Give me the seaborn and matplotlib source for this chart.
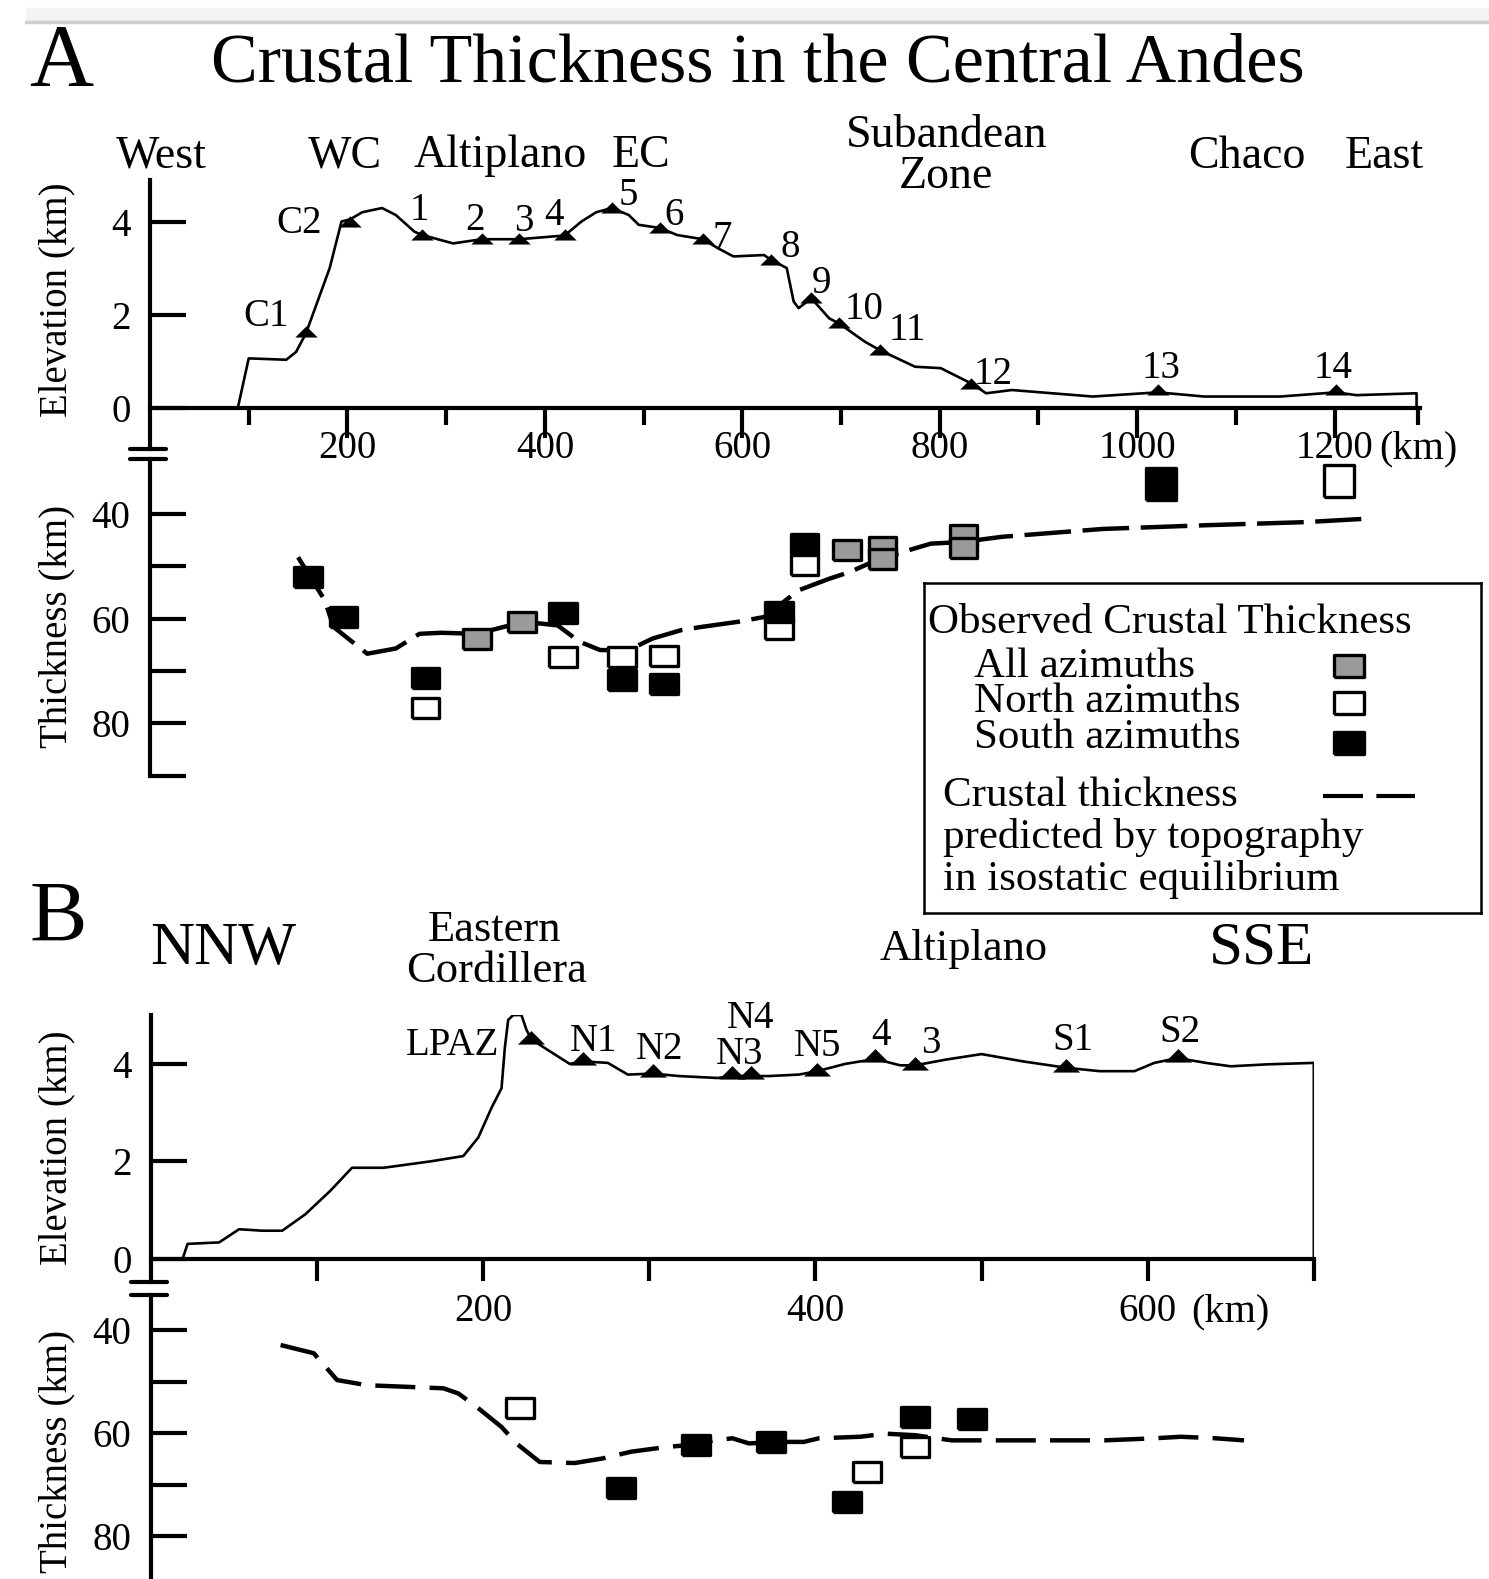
import pandas as pd
import seaborn as sns
import matplotlib.pyplot as plt
from matplotlib.lines import Line2D
from matplotlib.patches import Rectangle

# ---------------- Panel A: West -> East (km along profile) ----------------
a_topo_km = [89, 100, 138, 148, 158, 182, 194, 203, 215, 235,
             249, 268, 276, 307, 336, 374, 420, 437, 452, 468,
             485, 495, 517, 534, 560, 575, 591, 622, 629, 645,
             652, 657, 670, 688, 698, 724, 739, 775, 801, 832,
             847, 873, 914, 955, 1021, 1068, 1145, 1201, 1222, 1283, 1283]
a_topo_elev = [0, 1.06, 1.03, 1.2, 1.6, 3.0, 4.0, 4.05, 4.2, 4.29,
               4.14, 3.78, 3.71, 3.53, 3.62, 3.62, 3.7, 4.0, 4.2, 4.29,
               4.14, 3.93, 3.86, 3.71, 3.62, 3.43, 3.25, 3.28, 3.18, 3.0,
               2.28, 2.14, 2.35, 1.92, 1.81, 1.42, 1.24, 0.88, 0.85, 0.52,
               0.31, 0.38, 0.31, 0.24, 0.33, 0.24, 0.24, 0.33, 0.27, 0.31, 0]

a_sta_names = ["C1", "C2", "1", "2", "3", "4", "5", "6", "7", "8",
               "9", "10", "11", "12", "13", "14"]
a_sta_km = [158, 203, 276, 336, 374, 420, 468, 517, 560, 629,
            670, 698, 739, 832, 1021, 1201]
a_sta_elev = [1.63, 4.0, 3.71, 3.62, 3.62, 3.71, 4.29, 3.86, 3.62, 3.18,
              2.35, 1.81, 1.24, 0.52, 0.38, 0.38]

a_pred_km = [150, 177, 186, 220, 249, 273, 295, 331, 379, 413,
             435, 456, 485, 509, 538, 558, 596, 622, 657, 688,
             709, 739, 791, 822, 863, 965, 1068, 1170, 1227]
a_pred_thick = [48.3, 56.5, 61.6, 66.7, 65.7, 62.9, 62.7, 62.9, 60.6, 61.3,
                64.4, 66.0, 66.0, 63.8, 62.2, 61.6, 60.6, 59.7, 54.6, 52.4,
                51.1, 48.6, 45.7, 45.4, 44.4, 42.9, 42.2, 41.6, 41.0]

a_obs_km = [279, 418, 478, 521, 637, 663, 1204,
            331, 377, 706, 742, 742, 824, 824,
            160, 196, 279, 418, 478, 521, 637, 663, 1024]
a_obs_thick = [77.1, 67.3, 67.3, 67.2, 61.9, 49.8, 33.7,
               63.8, 60.6, 47.0, 46.3, 48.6, 44.0, 46.6,
               52.1, 59.7, 71.4, 59.0, 71.7, 72.4, 58.7, 45.7, 34.3]
a_obs_azimuth = ["North", "North", "North", "North", "North", "North", "North",
                 "All", "All", "All", "All", "All", "All", "All",
                 "South", "South", "South", "South", "South", "South", "South", "South", "South"]
a_obs_tall = [False, False, False, False, False, False, True,
              False, False, False, False, False, False, False,
              False, False, False, False, False, False, False, False, True]

# ---------------- Panel B: NNW -> SSE ----------------
b_topo_km = [19, 22, 41, 53, 67, 79, 93, 108, 121, 140,
             168, 188, 197, 205, 211, 213, 215, 218, 223, 226,
             229, 240, 252, 260, 275, 287, 302, 318, 341, 350,
             361, 372, 390, 401, 418, 436, 451, 460, 479, 500,
             525, 551, 571, 592, 604, 618, 635, 650, 672, 700, 700]
b_topo_elev = [0, 0.31, 0.34, 0.61, 0.58, 0.58, 0.92, 1.4, 1.87, 1.87,
               2.0, 2.11, 2.49, 3.1, 3.5, 4.33, 4.9, 5.0, 5.0, 4.7,
               4.5, 4.26, 4.0, 4.05, 4.02, 3.78, 3.8, 3.75, 3.71, 3.75,
               3.75, 3.75, 3.78, 3.85, 4.0, 4.1, 3.97, 3.97, 4.09, 4.2,
               4.05, 3.92, 3.85, 3.85, 4.02, 4.12, 4.02, 3.95, 3.99, 4.02, 0]

b_sta_names = ["LPAZ", "N1", "N2", "N3", "N4", "N5", "4", "3", "S1", "S2"]
b_sta_km = [229, 260, 302, 350, 361, 401, 436, 460, 551, 618]
b_sta_elev = [4.53, 4.09, 3.85, 3.82, 3.82, 3.88, 4.16, 3.99, 3.95, 4.16]

b_pred_km = [78, 98, 112, 130, 153, 176, 185, 196, 211, 220,
             234, 255, 272, 289, 310, 324, 339, 350, 360, 375,
             393, 402, 427, 442, 460, 482, 512, 543, 574, 604,
             620, 641, 658]
b_pred_thick = [42.9, 44.5, 49.7, 50.7, 51.0, 51.3, 52.3, 54.9, 58.8, 62.0,
                65.6, 65.8, 64.9, 63.6, 62.7, 62.3, 61.4, 61.0, 62.0, 61.7,
                61.7, 61.0, 60.7, 60.1, 60.4, 61.4, 61.4, 61.4, 61.4, 61.0,
                60.7, 61.0, 61.4]

b_obs_km = [222, 431, 460, 283, 328, 373, 419, 460, 494]
b_obs_thick = [55.2, 67.5, 62.7, 70.7, 62.3, 61.7, 73.3, 56.8, 57.2]
b_obs_azimuth = ["North", "North", "North", "South", "South", "South", "South", "South", "South"]

azimuth_colors = {"All": "#9a9a9a", "North": "white", "South": "black"}

# label offsets (points) of the station names relative to their triangles
a_label_offset = {"C1": (-29, 14), "C2": (-37, 2), "1": (-2, 21), "2": (-5, 17),
                  "3": (3, 16), "4": (-8, 17), "5": (12, 12), "6": (10, 12),
                  "7": (14, 4), "8": (14, 12), "9": (7, 14), "10": (18, 13),
                  "11": (20, 17), "12": (16, 10), "13": (2, 19), "14": (-2, 19)}
b_label_offset = {"LPAZ": (-23, -2), "N1": (8, 16), "N2": (5, 19), "N3": (5, 16),
                  "N4": (0, 42), "N5": (0, 20), "4": (4, 18), "3": (11, 18),
                  "S1": (5, 22), "S2": (2, 20)}

sns.set_style("ticks")
plt.rcParams["font.family"] = ["Liberation Serif", "DejaVu Serif"]
plt.rcParams["axes.linewidth"] = 3
for key in ["axes.edgecolor", "xtick.color", "ytick.color", "text.color", "axes.labelcolor"]:
    plt.rcParams[key] = "black"

REF_W, REF_H = 1479, 1568
fig = plt.figure(figsize=(14.89, 15.79), dpi=100)

flat_rect = [(-1, -0.72), (1, -0.72), (1, 0.72), (-1, 0.72), (-1, -0.72)]
tall_rect = [(-0.95, -1), (0.95, -1), (0.95, 1), (-0.95, 1), (-0.95, -1)]
triangle = [(-1, -0.45), (1, -0.45), (0, 0.55), (-1, -0.45)]


def add_axes_px(left, right, top, bottom):
    ax = fig.add_axes([left / REF_W, 1 - bottom / REF_H,
                       (right - left) / REF_W, (bottom - top) / REF_H])
    ax.set_facecolor("none")
    return ax


def style_elevation(ax, xmax, major, minor, ylim, major_len, minor_len, xpad):
    ax.set_xlim(0, xmax)
    ax.set_ylim(*ylim)
    ax.spines["top"].set_visible(False)
    ax.spines["right"].set_visible(False)
    ax.spines["bottom"].set_position(("data", 0))
    ax.set_xticks(major)
    ax.set_xticks(minor, minor=True)
    ax.set_yticks([0, 2, 4])
    ax.tick_params(axis="y", direction="in", length=26, width=3, pad=14, labelsize=28)
    ax.tick_params(axis="x", which="major", direction="out", length=major_len,
                   width=3, pad=xpad, labelsize=28)
    ax.tick_params(axis="x", which="minor", direction="out", length=minor_len, width=3)
    ax.set_xlabel("")
    ax.set_ylabel("Elevation (km)", fontsize=28)


def style_thickness(ax, xmax, ylim, ticks):
    ax.set_xlim(0, xmax)
    ax.set_ylim(*ylim)
    for side in ["top", "right", "bottom"]:
        ax.spines[side].set_visible(False)
    ax.set_xticks([])
    ax.set_yticks(ticks)
    ax.set_yticklabels([str(t) if t in (40, 60, 80) else "" for t in ticks])
    ax.tick_params(axis="y", direction="in", length=26, width=3, pad=14, labelsize=28)
    ax.set_xlabel("")
    ax.set_ylabel("Thickness (km)", fontsize=28)


def draw_profile(ax, km, elev, sta_km, sta_elev, names, offsets, tri_size):
    sns.lineplot(x=km, y=elev, sort=False, estimator=None, color="black",
                 lw=1.9, ax=ax)
    sns.scatterplot(x=sta_km, y=sta_elev, marker=triangle, s=tri_size,
                    color="black", edgecolor="black", linewidth=0, ax=ax, zorder=3)
    for name, x, y in zip(names, sta_km, sta_elev):
        dx, dy = offsets[name]
        ax.annotate(name, (x, y), xytext=(dx, dy), textcoords="offset points",
                    ha="right" if name == "LPAZ" else "center",
                    va="center_baseline", fontsize=28)


def draw_thickness(ax, pred_km, pred_thick, obs, dash):
    sns.lineplot(x=pred_km, y=pred_thick, sort=False, estimator=None,
                 color="black", lw=3.2, linestyle=(0, dash), ax=ax)
    for tall, sub in obs.groupby("tall", sort=True):
        sns.scatterplot(data=sub, x="km", y="thick", hue="azimuth",
                        palette=azimuth_colors, marker=tall_rect if tall else flat_rect,
                        s=520 if tall else 400, edgecolor="black", linewidth=2.4,
                        legend=False, ax=ax, zorder=4)


def break_mark(x_px, y_px):
    fig.add_artist(Line2D([(x_px - 18) / REF_W, (x_px + 18) / REF_W],
                          [1 - y_px / REF_H] * 2, color="black", lw=3))


def fig_text(x_px, y_px, s, size, **kw):
    fig.text(x_px / REF_W, 1 - y_px / REF_H, s, fontsize=size, ha="center",
             va="baseline", **kw)


# screenshot strip at the top
fig.add_artist(Rectangle((26 / REF_W, 1 - 20 / REF_H), 1, 12 / REF_H,
                         transform=fig.transFigure, color="#f3f3f3", zorder=0))
fig.add_artist(Line2D([26 / REF_W, 1], [1 - 21.5 / REF_H] * 2, color="#cfcfcf", lw=2.5))

# ---------------- Panel A ----------------
a_obs = pd.DataFrame({"km": a_obs_km, "thick": a_obs_thick,
                      "azimuth": a_obs_azimuth, "tall": a_obs_tall})

ax_a_el = add_axes_px(149, 1410, 178.4, 446)
draw_profile(ax_a_el, a_topo_km, a_topo_elev, a_sta_km, a_sta_elev,
             a_sta_names, a_label_offset, 260)
style_elevation(ax_a_el, 1286, [200, 400, 600, 800, 1000, 1200],
                [100, 300, 500, 700, 900, 1100, 1284], (-0.89, 4.9), 21.5, 12, -5.5)
ax_a_el.yaxis.set_label_coords(-0.059, 0.553)
ax_a_el.annotate("(km)", (1200, 0), xytext=(32, -16), textcoords="offset points",
                 ha="left", va="top", fontsize=29)

ax_a_th = add_axes_px(149, 1410, 455.5, 770.5)
draw_thickness(ax_a_th, a_pred_km, a_pred_thick, a_obs, (10.5, 2.6))
style_thickness(ax_a_th, 1286, (90, 29.5), [40, 50, 60, 70, 80, 90])
ax_a_th.yaxis.set_label_coords(-0.059, 0.471)

break_mark(147, 446)
break_mark(147, 455.5)

fig_text(61, 84, "A", 64)
fig_text(753, 81, "Crustal Thickness in the Central Andes", 50.5)
for label, x, y in [("West", 160, 166), ("WC", 343, 166), ("Altiplano", 497, 166),
                    ("EC", 637, 166), ("Subandean", 940, 146), ("Zone", 940, 187),
                    ("Chaco", 1238, 167), ("East", 1375, 167)]:
    fig_text(x, y, label, 33)

# legend box
leg = fig.add_axes([918 / REF_W, 1 - 907 / REF_H, 553 / REF_W, 328 / REF_H])
leg.set_xlim(0, 1)
leg.set_ylim(0, 1)
leg.set_xticks([])
leg.set_yticks([])
for sp in leg.spines.values():
    sp.set_linewidth(1.8)
leg.text(0.007, 0.848, "Observed Crustal Thickness", fontsize=31, va="baseline")
for label, ty, sy, az in [("All azimuths", 0.717, 0.75, "All"),
                          ("North azimuths", 0.61, 0.637, "North"),
                          ("South azimuths", 0.5, 0.515, "South")]:
    leg.text(0.09, ty, label, fontsize=31, va="baseline")
    leg.scatter([0.763], [sy], marker=flat_rect, s=470, c=azimuth_colors[az],
                edgecolors="black", linewidths=2.4)
for label, ty in [("Crustal thickness", 0.326), ("predicted by topography", 0.198),
                  ("in isostatic equilibrium", 0.07)]:
    leg.text(0.034, ty, label, fontsize=31, va="baseline")
leg.plot([0.716, 0.881], [0.354, 0.354], color="black", lw=3,
         linestyle=(0, (9.6, 3.2)))

# ---------------- Panel B ----------------
b_obs = pd.DataFrame({"km": b_obs_km, "thick": b_obs_thick,
                      "azimuth": b_obs_azimuth, "tall": [False] * len(b_obs_km)})

ax_b_el = add_axes_px(150, 1305, 1008, 1273)
draw_profile(ax_b_el, b_topo_km, b_topo_elev, b_sta_km, b_sta_elev,
             b_sta_names, b_label_offset, 380)
style_elevation(ax_b_el, 700, [200, 400, 600], [100, 300, 500, 700],
                (-0.47, 5.0), 16, 16, 8.5)
ax_b_el.yaxis.set_label_coords(-0.065, 0.502)
ax_b_el.annotate("(km)", (600, 0), xytext=(31, -24.5), textcoords="offset points",
                 ha="left", va="top", fontsize=29)

ax_b_th = add_axes_px(150, 1305, 1286, 1568)
draw_thickness(ax_b_th, b_pred_km, b_pred_thick, b_obs, (9.0, 3.2))
style_thickness(ax_b_th, 700, (88.3, 33.2), [40, 50, 60, 70, 80])
ax_b_th.yaxis.set_label_coords(-0.065, 0.449)

break_mark(148, 1273)
break_mark(148, 1286)

fig_text(58, 934, "B", 62)
fig_text(222, 957, "NNW", 44)
fig_text(491, 934, "Eastern", 32)
fig_text(493, 975, "Cordillera", 32)
fig_text(957, 953, "Altiplano", 32)
fig_text(1253, 957, "SSE", 44)

fig.savefig("out.png", dpi=100)
